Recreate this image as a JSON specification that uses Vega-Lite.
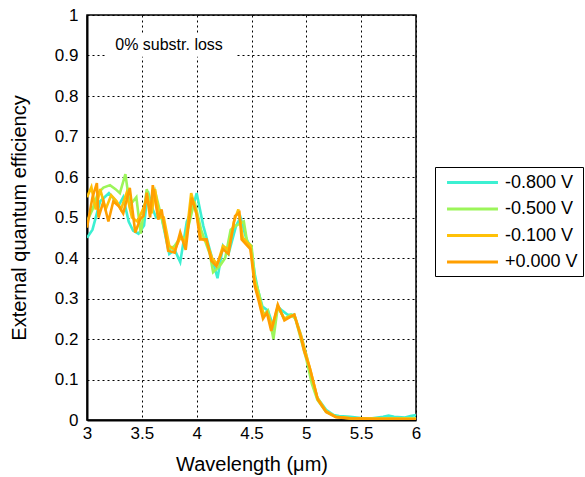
{
  "$schema": "https://vega.github.io/schema/vega-lite/v6.json",
  "width": 329,
  "height": 405,
  "autosize": {"type": "none"},
  "padding": {"left": 87, "top": 15, "right": 169, "bottom": 57},
  "background": "white",
  "config": {
    "font": "Liberation Sans",
    "view": {"stroke": "black", "strokeWidth": 1.5},
    "axis": {
      "labelFont": "Liberation Sans",
      "titleFont": "Liberation Sans",
      "labelColor": "black",
      "titleColor": "black",
      "titleFontWeight": "normal",
      "labelFontSize": 17,
      "titleFontSize": 20,
      "format": "~g",
      "grid": true,
      "gridColor": "black",
      "gridDash": [2, 3],
      "gridWidth": 1,
      "gridOpacity": 1,
      "ticks": false,
      "domainColor": "black",
      "domainWidth": 2,
      "labelFlush": false
    },
    "legend": {
      "labelFont": "Liberation Sans",
      "labelFontSize": 18,
      "labelColor": "black"
    }
  },
  "datasets": {
    "curves": [
      {"s": "-0.800 V", "wl": 3.00, "eqe": 0.45},
      {"s": "-0.800 V", "wl": 3.05, "eqe": 0.47},
      {"s": "-0.800 V", "wl": 3.12, "eqe": 0.54},
      {"s": "-0.800 V", "wl": 3.20, "eqe": 0.56},
      {"s": "-0.800 V", "wl": 3.25, "eqe": 0.545},
      {"s": "-0.800 V", "wl": 3.29, "eqe": 0.53},
      {"s": "-0.800 V", "wl": 3.33, "eqe": 0.55},
      {"s": "-0.800 V", "wl": 3.38, "eqe": 0.49},
      {"s": "-0.800 V", "wl": 3.42, "eqe": 0.468},
      {"s": "-0.800 V", "wl": 3.47, "eqe": 0.46},
      {"s": "-0.800 V", "wl": 3.52, "eqe": 0.48},
      {"s": "-0.800 V", "wl": 3.555, "eqe": 0.565},
      {"s": "-0.800 V", "wl": 3.60, "eqe": 0.52},
      {"s": "-0.800 V", "wl": 3.63, "eqe": 0.50},
      {"s": "-0.800 V", "wl": 3.68, "eqe": 0.50},
      {"s": "-0.800 V", "wl": 3.75, "eqe": 0.41},
      {"s": "-0.800 V", "wl": 3.80, "eqe": 0.42},
      {"s": "-0.800 V", "wl": 3.85, "eqe": 0.39},
      {"s": "-0.800 V", "wl": 3.91, "eqe": 0.49},
      {"s": "-0.800 V", "wl": 3.96, "eqe": 0.52},
      {"s": "-0.800 V", "wl": 4.00, "eqe": 0.56},
      {"s": "-0.800 V", "wl": 4.06, "eqe": 0.48},
      {"s": "-0.800 V", "wl": 4.13, "eqe": 0.41},
      {"s": "-0.800 V", "wl": 4.19, "eqe": 0.35},
      {"s": "-0.800 V", "wl": 4.24, "eqe": 0.43},
      {"s": "-0.800 V", "wl": 4.29, "eqe": 0.41},
      {"s": "-0.800 V", "wl": 4.36, "eqe": 0.48},
      {"s": "-0.800 V", "wl": 4.40, "eqe": 0.50},
      {"s": "-0.800 V", "wl": 4.45, "eqe": 0.45},
      {"s": "-0.800 V", "wl": 4.50, "eqe": 0.42},
      {"s": "-0.800 V", "wl": 4.53, "eqe": 0.36},
      {"s": "-0.800 V", "wl": 4.56, "eqe": 0.32},
      {"s": "-0.800 V", "wl": 4.60, "eqe": 0.28},
      {"s": "-0.800 V", "wl": 4.65, "eqe": 0.27},
      {"s": "-0.800 V", "wl": 4.70, "eqe": 0.23},
      {"s": "-0.800 V", "wl": 4.74, "eqe": 0.28},
      {"s": "-0.800 V", "wl": 4.78, "eqe": 0.27},
      {"s": "-0.800 V", "wl": 4.83, "eqe": 0.26},
      {"s": "-0.800 V", "wl": 4.89, "eqe": 0.26},
      {"s": "-0.800 V", "wl": 4.95, "eqe": 0.21},
      {"s": "-0.800 V", "wl": 5.00, "eqe": 0.16},
      {"s": "-0.800 V", "wl": 5.05, "eqe": 0.10},
      {"s": "-0.800 V", "wl": 5.10, "eqe": 0.055},
      {"s": "-0.800 V", "wl": 5.18, "eqe": 0.025},
      {"s": "-0.800 V", "wl": 5.25, "eqe": 0.012},
      {"s": "-0.800 V", "wl": 5.30, "eqe": 0.010},
      {"s": "-0.800 V", "wl": 5.40, "eqe": 0.008},
      {"s": "-0.800 V", "wl": 5.50, "eqe": 0.005},
      {"s": "-0.800 V", "wl": 5.60, "eqe": 0.004},
      {"s": "-0.800 V", "wl": 5.70, "eqe": 0.008},
      {"s": "-0.800 V", "wl": 5.75, "eqe": 0.011},
      {"s": "-0.800 V", "wl": 5.80, "eqe": 0.008},
      {"s": "-0.800 V", "wl": 5.90, "eqe": 0.006},
      {"s": "-0.800 V", "wl": 5.95, "eqe": 0.010},
      {"s": "-0.800 V", "wl": 6.00, "eqe": 0.012},

      {"s": "-0.500 V", "wl": 3.00, "eqe": 0.49},
      {"s": "-0.500 V", "wl": 3.05, "eqe": 0.52},
      {"s": "-0.500 V", "wl": 3.10, "eqe": 0.56},
      {"s": "-0.500 V", "wl": 3.15, "eqe": 0.574},
      {"s": "-0.500 V", "wl": 3.21, "eqe": 0.58},
      {"s": "-0.500 V", "wl": 3.26, "eqe": 0.57},
      {"s": "-0.500 V", "wl": 3.30, "eqe": 0.56},
      {"s": "-0.500 V", "wl": 3.35, "eqe": 0.607},
      {"s": "-0.500 V", "wl": 3.39, "eqe": 0.53},
      {"s": "-0.500 V", "wl": 3.45, "eqe": 0.55},
      {"s": "-0.500 V", "wl": 3.49, "eqe": 0.46},
      {"s": "-0.500 V", "wl": 3.545, "eqe": 0.57},
      {"s": "-0.500 V", "wl": 3.58, "eqe": 0.53},
      {"s": "-0.500 V", "wl": 3.62, "eqe": 0.565},
      {"s": "-0.500 V", "wl": 3.68, "eqe": 0.50},
      {"s": "-0.500 V", "wl": 3.75, "eqe": 0.42},
      {"s": "-0.500 V", "wl": 3.80, "eqe": 0.43},
      {"s": "-0.500 V", "wl": 3.85, "eqe": 0.45},
      {"s": "-0.500 V", "wl": 3.90, "eqe": 0.45},
      {"s": "-0.500 V", "wl": 3.98, "eqe": 0.54},
      {"s": "-0.500 V", "wl": 4.04, "eqe": 0.47},
      {"s": "-0.500 V", "wl": 4.12, "eqe": 0.41},
      {"s": "-0.500 V", "wl": 4.15, "eqe": 0.365},
      {"s": "-0.500 V", "wl": 4.21, "eqe": 0.38},
      {"s": "-0.500 V", "wl": 4.26, "eqe": 0.40},
      {"s": "-0.500 V", "wl": 4.31, "eqe": 0.47},
      {"s": "-0.500 V", "wl": 4.36, "eqe": 0.48},
      {"s": "-0.500 V", "wl": 4.43, "eqe": 0.49},
      {"s": "-0.500 V", "wl": 4.46, "eqe": 0.44},
      {"s": "-0.500 V", "wl": 4.50, "eqe": 0.43},
      {"s": "-0.500 V", "wl": 4.53, "eqe": 0.35},
      {"s": "-0.500 V", "wl": 4.57, "eqe": 0.31},
      {"s": "-0.500 V", "wl": 4.61, "eqe": 0.26},
      {"s": "-0.500 V", "wl": 4.65, "eqe": 0.27},
      {"s": "-0.500 V", "wl": 4.70, "eqe": 0.20},
      {"s": "-0.500 V", "wl": 4.74, "eqe": 0.28},
      {"s": "-0.500 V", "wl": 4.80, "eqe": 0.25},
      {"s": "-0.500 V", "wl": 4.86, "eqe": 0.26},
      {"s": "-0.500 V", "wl": 4.90, "eqe": 0.25},
      {"s": "-0.500 V", "wl": 4.95, "eqe": 0.20},
      {"s": "-0.500 V", "wl": 5.00, "eqe": 0.15},
      {"s": "-0.500 V", "wl": 5.05, "eqe": 0.09},
      {"s": "-0.500 V", "wl": 5.10, "eqe": 0.05},
      {"s": "-0.500 V", "wl": 5.18, "eqe": 0.02},
      {"s": "-0.500 V", "wl": 5.27, "eqe": 0.008},
      {"s": "-0.500 V", "wl": 5.40, "eqe": 0.005},
      {"s": "-0.500 V", "wl": 5.60, "eqe": 0.004},
      {"s": "-0.500 V", "wl": 5.80, "eqe": 0.004},
      {"s": "-0.500 V", "wl": 6.00, "eqe": 0.004},

      {"s": "-0.100 V", "wl": 3.00, "eqe": 0.55},
      {"s": "-0.100 V", "wl": 3.04, "eqe": 0.575},
      {"s": "-0.100 V", "wl": 3.08, "eqe": 0.52},
      {"s": "-0.100 V", "wl": 3.12, "eqe": 0.57},
      {"s": "-0.100 V", "wl": 3.17, "eqe": 0.52},
      {"s": "-0.100 V", "wl": 3.22, "eqe": 0.555},
      {"s": "-0.100 V", "wl": 3.27, "eqe": 0.54},
      {"s": "-0.100 V", "wl": 3.31, "eqe": 0.52},
      {"s": "-0.100 V", "wl": 3.36, "eqe": 0.56},
      {"s": "-0.100 V", "wl": 3.41, "eqe": 0.50},
      {"s": "-0.100 V", "wl": 3.46, "eqe": 0.49},
      {"s": "-0.100 V", "wl": 3.51, "eqe": 0.52},
      {"s": "-0.100 V", "wl": 3.55, "eqe": 0.55},
      {"s": "-0.100 V", "wl": 3.59, "eqe": 0.51},
      {"s": "-0.100 V", "wl": 3.62, "eqe": 0.57},
      {"s": "-0.100 V", "wl": 3.66, "eqe": 0.50},
      {"s": "-0.100 V", "wl": 3.70, "eqe": 0.50},
      {"s": "-0.100 V", "wl": 3.75, "eqe": 0.43},
      {"s": "-0.100 V", "wl": 3.80, "eqe": 0.42},
      {"s": "-0.100 V", "wl": 3.85, "eqe": 0.45},
      {"s": "-0.100 V", "wl": 3.90, "eqe": 0.44},
      {"s": "-0.100 V", "wl": 3.95, "eqe": 0.56},
      {"s": "-0.100 V", "wl": 3.99, "eqe": 0.52},
      {"s": "-0.100 V", "wl": 4.04, "eqe": 0.45},
      {"s": "-0.100 V", "wl": 4.09, "eqe": 0.44},
      {"s": "-0.100 V", "wl": 4.14, "eqe": 0.40},
      {"s": "-0.100 V", "wl": 4.19, "eqe": 0.385},
      {"s": "-0.100 V", "wl": 4.24, "eqe": 0.43},
      {"s": "-0.100 V", "wl": 4.29, "eqe": 0.42},
      {"s": "-0.100 V", "wl": 4.34, "eqe": 0.49},
      {"s": "-0.100 V", "wl": 4.38, "eqe": 0.52},
      {"s": "-0.100 V", "wl": 4.42, "eqe": 0.45},
      {"s": "-0.100 V", "wl": 4.49, "eqe": 0.43},
      {"s": "-0.100 V", "wl": 4.53, "eqe": 0.34},
      {"s": "-0.100 V", "wl": 4.57, "eqe": 0.30},
      {"s": "-0.100 V", "wl": 4.61, "eqe": 0.26},
      {"s": "-0.100 V", "wl": 4.65, "eqe": 0.26},
      {"s": "-0.100 V", "wl": 4.69, "eqe": 0.23},
      {"s": "-0.100 V", "wl": 4.74, "eqe": 0.28},
      {"s": "-0.100 V", "wl": 4.80, "eqe": 0.25},
      {"s": "-0.100 V", "wl": 4.89, "eqe": 0.26},
      {"s": "-0.100 V", "wl": 4.95, "eqe": 0.21},
      {"s": "-0.100 V", "wl": 4.99, "eqe": 0.17},
      {"s": "-0.100 V", "wl": 5.04, "eqe": 0.12},
      {"s": "-0.100 V", "wl": 5.10, "eqe": 0.055},
      {"s": "-0.100 V", "wl": 5.18, "eqe": 0.022},
      {"s": "-0.100 V", "wl": 5.27, "eqe": 0.008},
      {"s": "-0.100 V", "wl": 5.40, "eqe": 0.004},
      {"s": "-0.100 V", "wl": 5.60, "eqe": 0.003},
      {"s": "-0.100 V", "wl": 5.80, "eqe": 0.003},
      {"s": "-0.100 V", "wl": 6.00, "eqe": 0.003},

      {"s": "+0.000 V", "wl": 3.00, "eqe": 0.475},
      {"s": "+0.000 V", "wl": 3.05, "eqe": 0.55},
      {"s": "+0.000 V", "wl": 3.09, "eqe": 0.585},
      {"s": "+0.000 V", "wl": 3.105, "eqe": 0.50},
      {"s": "+0.000 V", "wl": 3.15, "eqe": 0.54},
      {"s": "+0.000 V", "wl": 3.195, "eqe": 0.49},
      {"s": "+0.000 V", "wl": 3.24, "eqe": 0.54},
      {"s": "+0.000 V", "wl": 3.29, "eqe": 0.528},
      {"s": "+0.000 V", "wl": 3.33, "eqe": 0.51},
      {"s": "+0.000 V", "wl": 3.39, "eqe": 0.573},
      {"s": "+0.000 V", "wl": 3.44, "eqe": 0.463},
      {"s": "+0.000 V", "wl": 3.485, "eqe": 0.496},
      {"s": "+0.000 V", "wl": 3.515, "eqe": 0.504},
      {"s": "+0.000 V", "wl": 3.545, "eqe": 0.561},
      {"s": "+0.000 V", "wl": 3.575, "eqe": 0.50},
      {"s": "+0.000 V", "wl": 3.60, "eqe": 0.58},
      {"s": "+0.000 V", "wl": 3.65, "eqe": 0.495},
      {"s": "+0.000 V", "wl": 3.68, "eqe": 0.52},
      {"s": "+0.000 V", "wl": 3.74, "eqe": 0.418},
      {"s": "+0.000 V", "wl": 3.80, "eqe": 0.413},
      {"s": "+0.000 V", "wl": 3.85, "eqe": 0.463},
      {"s": "+0.000 V", "wl": 3.90, "eqe": 0.42},
      {"s": "+0.000 V", "wl": 3.955, "eqe": 0.549},
      {"s": "+0.000 V", "wl": 4.00, "eqe": 0.508},
      {"s": "+0.000 V", "wl": 4.03, "eqe": 0.446},
      {"s": "+0.000 V", "wl": 4.09, "eqe": 0.446},
      {"s": "+0.000 V", "wl": 4.135, "eqe": 0.393},
      {"s": "+0.000 V", "wl": 4.18, "eqe": 0.38},
      {"s": "+0.000 V", "wl": 4.24, "eqe": 0.422},
      {"s": "+0.000 V", "wl": 4.29, "eqe": 0.41},
      {"s": "+0.000 V", "wl": 4.35, "eqe": 0.504},
      {"s": "+0.000 V", "wl": 4.39, "eqe": 0.512},
      {"s": "+0.000 V", "wl": 4.41, "eqe": 0.446},
      {"s": "+0.000 V", "wl": 4.49, "eqe": 0.422},
      {"s": "+0.000 V", "wl": 4.53, "eqe": 0.33},
      {"s": "+0.000 V", "wl": 4.56, "eqe": 0.30},
      {"s": "+0.000 V", "wl": 4.605, "eqe": 0.25},
      {"s": "+0.000 V", "wl": 4.64, "eqe": 0.265},
      {"s": "+0.000 V", "wl": 4.68, "eqe": 0.22},
      {"s": "+0.000 V", "wl": 4.74, "eqe": 0.285},
      {"s": "+0.000 V", "wl": 4.80, "eqe": 0.246},
      {"s": "+0.000 V", "wl": 4.89, "eqe": 0.26},
      {"s": "+0.000 V", "wl": 4.95, "eqe": 0.205},
      {"s": "+0.000 V", "wl": 4.98, "eqe": 0.17},
      {"s": "+0.000 V", "wl": 5.03, "eqe": 0.13},
      {"s": "+0.000 V", "wl": 5.105, "eqe": 0.05},
      {"s": "+0.000 V", "wl": 5.18, "eqe": 0.02},
      {"s": "+0.000 V", "wl": 5.27, "eqe": 0.007},
      {"s": "+0.000 V", "wl": 5.40, "eqe": 0.004},
      {"s": "+0.000 V", "wl": 5.60, "eqe": 0.003},
      {"s": "+0.000 V", "wl": 5.80, "eqe": 0.003},
      {"s": "+0.000 V", "wl": 6.00, "eqe": 0.002}
    ]
  },
  "encoding": {
    "x": {
      "field": "wl",
      "type": "quantitative",
      "scale": {"domain": [3, 6], "nice": false, "zero": false},
      "axis": {
        "title": "Wavelength (μm)",
        "values": [3, 3.5, 4, 4.5, 5, 5.5, 6],
        "labelPadding": 5,
        "titlePadding": 13
      }
    },
    "y": {
      "field": "eqe",
      "type": "quantitative",
      "scale": {"domain": [0, 1], "nice": false},
      "axis": {
        "title": "External quantum efficiency",
        "values": [0, 0.1, 0.2, 0.3, 0.4, 0.5, 0.6, 0.7, 0.8, 0.9, 1],
        "labelPadding": 9,
        "titlePadding": 25
      }
    }
  },
  "layer": [
    {
      "data": {"values": [{"wl": 3.165, "wl2": 4.35, "eqe": 0.897, "eqe2": 0.955}]},
      "mark": {"type": "rect", "fill": "white"},
      "encoding": {
        "x2": {"field": "wl2"},
        "y2": {"field": "eqe2"}
      }
    },
    {
      "data": {"values": [{"wl": 3.748, "eqe": 0.926, "label": "0% substr. loss"}]},
      "mark": {"type": "text", "fontSize": 16, "font": "Liberation Sans", "color": "black", "align": "center", "baseline": "middle"},
      "encoding": {"text": {"field": "label"}}
    },
    {
      "data": {"name": "curves"},
      "mark": {"type": "line", "strokeWidth": 2.6, "clip": true},
      "encoding": {
        "color": {
          "field": "s",
          "type": "nominal",
          "sort": null,
          "scale": {
            "domain": ["-0.800 V", "-0.500 V", "-0.100 V", "+0.000 V"],
            "range": ["#3cf0d2", "#9cf55a", "#ffc107", "#ff9f00"]
          },
          "legend": {
            "title": null,
            "orient": "none",
            "legendX": 348,
            "legendY": 152,
            "strokeColor": "black",
            "fillColor": "white",
            "padding": 5,
            "symbolType": "M-2.83,0H2.83",
            "symbolSize": 324,
            "symbolStrokeWidth": 3,
            "symbolOffset": 22,
            "labelOffset": 22,
            "rowPadding": 6.5
          }
        }
      }
    }
  ]
}
